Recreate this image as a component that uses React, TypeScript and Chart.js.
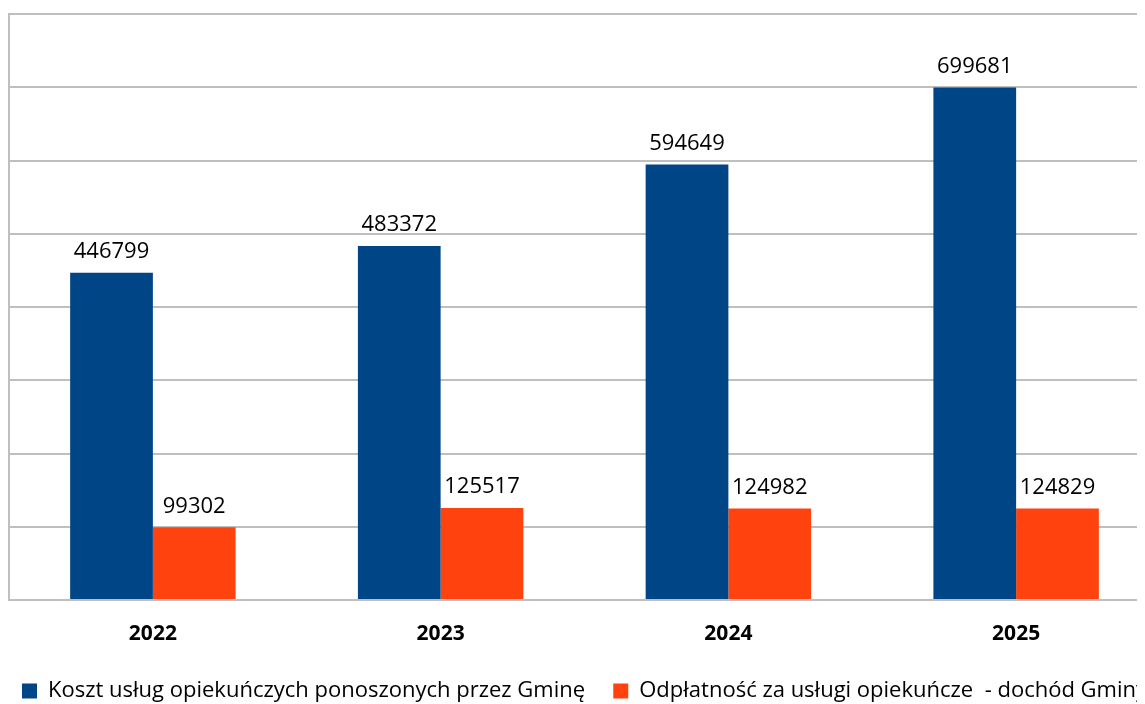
import React, { useEffect, useRef } from "react";
import { Chart, registerables } from "chart.js";

Chart.register(...registerables);

const categories = ["2022", "2023", "2024", "2025"];
const kosztValues = [446799, 483372, 594649, 699681];
const odplatnoscValues = [99302, 125517, 124982, 124829];
const seriesNames = [
  "Koszt usług opiekuńczych ponoszonych przez Gminę",
  "Odpłatność za usługi opiekuńcze  - dochód Gminy",
];
const yMax = 800000;
const yStep = 100000;

const FONT = "'Open Sans', 'Noto Sans', sans-serif";

const valueLabels = {
  id: "valueLabels",
  afterDatasetsDraw(chart: any) {
    const ctx = chart.ctx;
    ctx.save();
    ctx.font = `22px ${FONT}`;
    ctx.fillStyle = "#000";
    ctx.textAlign = "center";
    ctx.textBaseline = "bottom";
    chart.data.datasets.forEach((ds: any, i: number) => {
      const meta = chart.getDatasetMeta(i);
      meta.data.forEach((bar: any, j: number) => {
        ctx.fillText(String(ds.data[j]), bar.x, bar.y - 10);
      });
    });
    ctx.restore();
  },
};

export default function App() {
  const ref = useRef<HTMLCanvasElement>(null);
  useEffect(() => {
    document.documentElement.style.overflow = "hidden";
    const chart = new Chart(ref.current!, {
      type: "bar",
      data: {
        labels: categories,
        datasets: [
          {
            label: seriesNames[0],
            data: kosztValues,
            backgroundColor: "#004586",
            categoryPercentage: 0.575,
            barPercentage: 1,
          },
          {
            label: seriesNames[1],
            data: odplatnoscValues,
            backgroundColor: "#ff420e",
            categoryPercentage: 0.575,
            barPercentage: 1,
          },
        ],
      },
      options: {
        animation: false,
        responsive: false,
        layout: { padding: { top: 6, left: 1, right: 0, bottom: 0 } },
        scales: {
          x: {
            grid: { display: false },
            border: { display: true, color: "#bfbfbf", width: 2 },
            ticks: {
              color: "#000",
              font: { family: FONT, size: 21, weight: "bold" },
              padding: 13,
            },
            afterFit: (scale: any) => {
              scale.height = 69;
            },
          },
          y: {
            min: 0,
            max: yMax,
            ticks: { display: false, stepSize: yStep },
            grid: { color: "#bfbfbf", lineWidth: 2, drawTicks: false },
            border: { display: true, color: "#bfbfbf", width: 2 },
          },
        },
        plugins: {
          tooltip: { enabled: false },
          legend: {
            position: "bottom",
            labels: {
              color: "#000",
              font: { family: FONT, size: 22 },
              boxWidth: 15,
              boxHeight: 15,
              padding: 11,
              generateLabels: (c: any) => {
                const items = Chart.defaults.plugins.legend.labels.generateLabels(c);
                if (items.length > 1) items[0].text = items[0].text + "   ";
                return items;
              },
            },
          },
        },
      },
      plugins: [valueLabels],
    });
    return () => chart.destroy();
  }, []);
  return (
    <div style={{ width: 1137, height: 696, overflow: "hidden" }}>
      <canvas ref={ref} width={1152} height={704} style={{ display: "block" }} />
    </div>
  );
}
